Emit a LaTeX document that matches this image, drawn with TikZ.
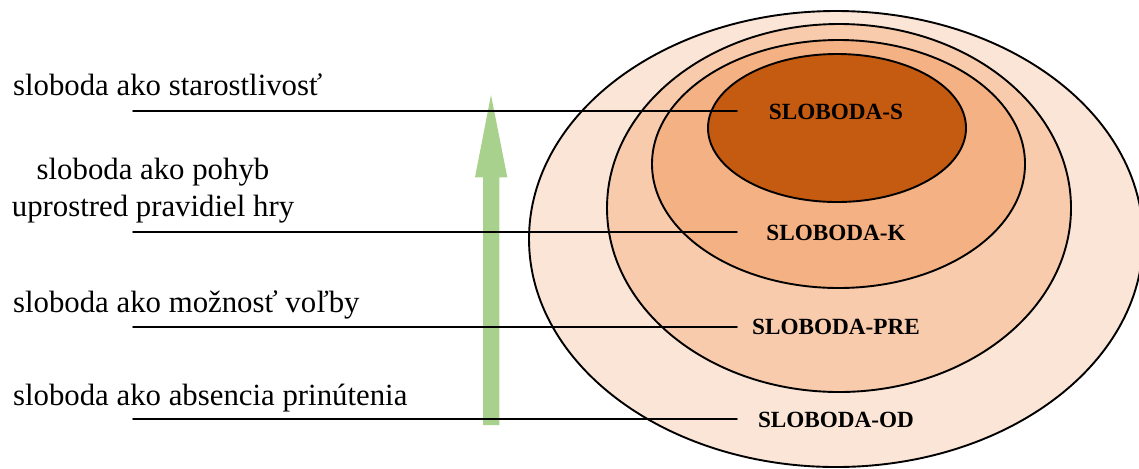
\documentclass[tikz,border=0pt]{standalone}
\usepackage{fontspec}
\setmainfont{Liberation Serif}
\definecolor{ringod}{HTML}{FBE5D6}
\definecolor{ringpre}{HTML}{F8CBAD}
\definecolor{ringk}{HTML}{F4B183}
\definecolor{rings}{HTML}{C55A11}
\definecolor{upgreen}{HTML}{A9D18E}
\tikzset{
  ring/.style={draw=black, line width=0.95pt},
  lvl/.style={font=\fontsize{11.6}{14}\selectfont\bfseries, anchor=base},
  desc/.style={font=\fontsize{15.4}{18.4}\selectfont, anchor=base west, inner sep=0pt},
}
\begin{document}
\begin{tikzpicture}[x=0.5pt, y=0.5pt, line join=round, line cap=round]
	\clip (0,0) rectangle (1139,-468);
	% nested rings, outer to inner
	\filldraw[ring, fill=ringod] (836,-239) ellipse [x radius=307, y radius=228];
	\filldraw[ring, fill=ringpre] (839,-208) ellipse [x radius=232, y radius=184];
	\filldraw[ring, fill=ringk] (838.5,-164) ellipse [x radius=186.5, y radius=124];
	\filldraw[ring, fill=rings] (837,-128) ellipse [x radius=129, y radius=74];
	% upward arrow
	\fill[upgreen] (483,-425) -- (499.3,-425) -- (499.3,-177.3) -- (507.3,-177.3)
		-- (491,-95) -- (475,-177.3) -- (483,-177.3) -- cycle;
	% leader lines
	\foreach \y/\n in {111/s,232/k,327/pre,419/od}{
		\coordinate (a\n) at (133,-\y);
		\coordinate (b\n) at (737,-\y);
		\draw[line width=0.8pt] (a\n) -- (b\n);
	}
	\node[lvl] (ls) at (836,-119) {SLOBODA-S};
	\node[lvl] (lk) at (836,-240.7) {SLOBODA-K};
	\node[lvl] (lpre) at (836,-334.3) {SLOBODA-PRE};
	\node[lvl] (lod) at (836,-427.3) {SLOBODA-OD};
	\node[desc] (ts) at (12.7,-95) {sloboda ako starostlivosť};
	\node[font=\fontsize{15.4}{18.4}\selectfont, align=center, inner sep=0pt] (tk) at (153,-191) {sloboda ako pohyb\\uprostred pravidiel hry};
	\node[desc] (tpre) at (12.7,-312.7) {sloboda ako možnosť voľby};
	\node[desc] (tod) at (12.7,-405) {sloboda ako absencia prinútenia};
\end{tikzpicture}
\end{document}
